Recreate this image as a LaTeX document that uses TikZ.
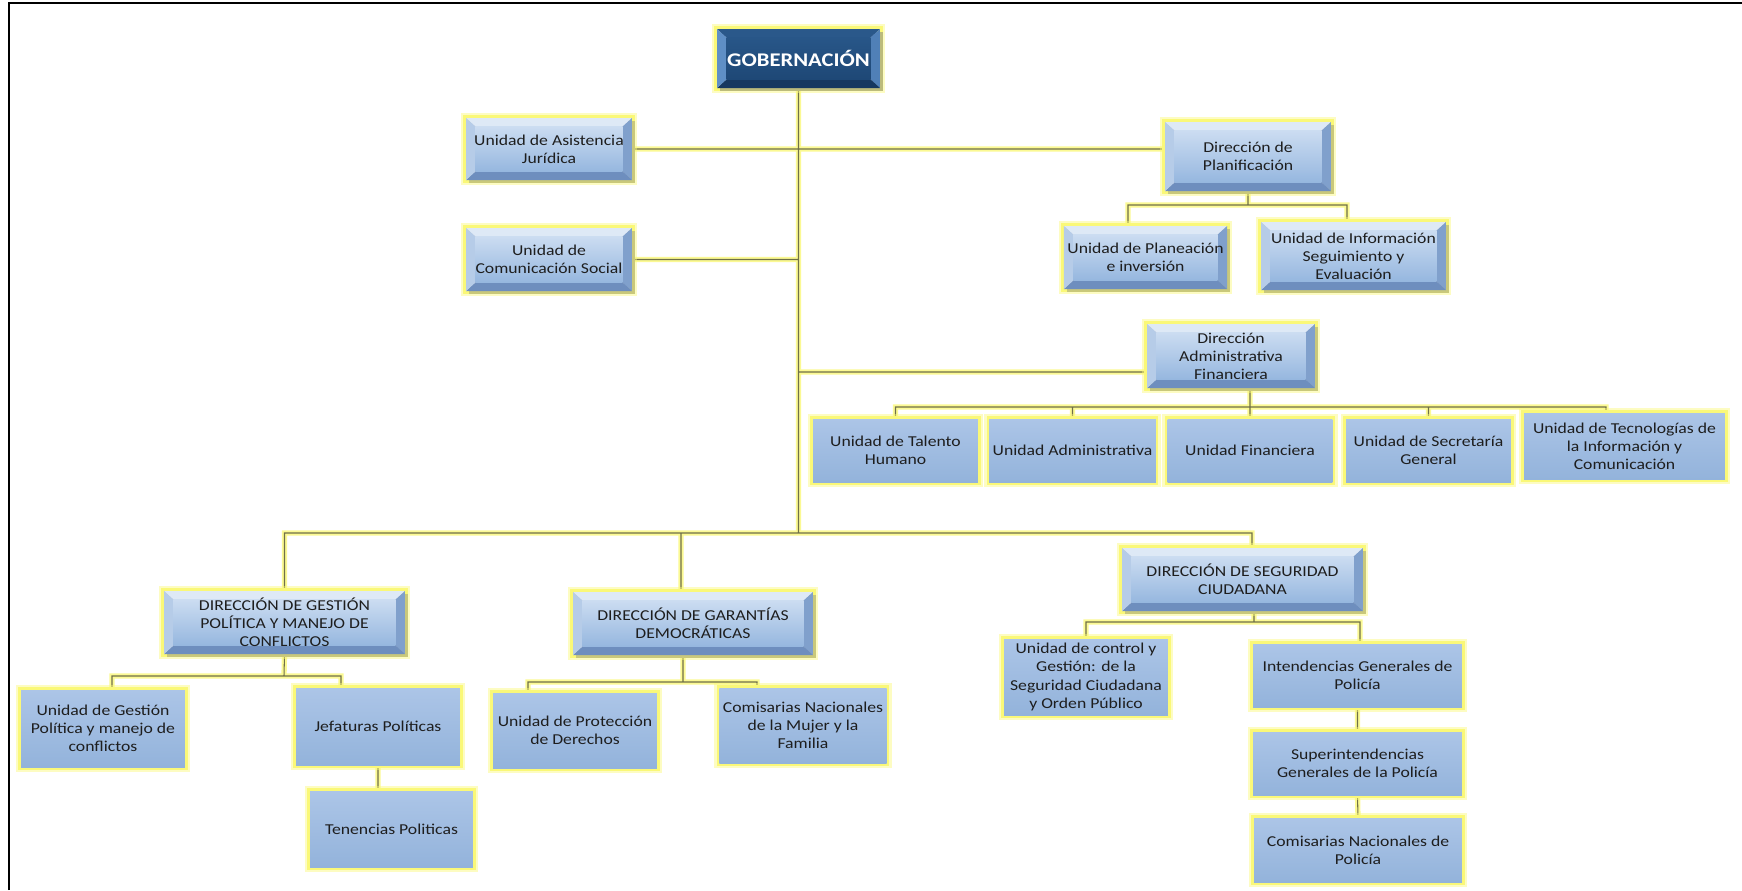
\documentclass[tikz,border=0pt]{standalone}
\usepackage{fontspec}
\setmainfont{Carlito}[FakeStretch=1.17]
\usepackage{tikz}
\usetikzlibrary{shadows,backgrounds}
\usepackage{xcolor}
\definecolor{glow}{RGB}{250,248,120}
\definecolor{linkc}{RGB}{112,112,72}
\definecolor{txt}{RGB}{30,30,30}
% light bevel faces
\definecolor{lbhi}{RGB}{203,220,241}
\definecolor{lblo}{RGB}{150,183,223}
\definecolor{lbtop}{RGB}{222,233,246}
\definecolor{lbleft}{RGB}{182,204,232}
\definecolor{lbright}{RGB}{128,160,204}
\definecolor{lbbot}{RGB}{110,142,190}
% dark bevel faces
\definecolor{dbhi}{RGB}{40,86,136}
\definecolor{dblo}{RGB}{30,72,118}
\definecolor{dbtop}{RGB}{42,88,138}
\definecolor{dbleft}{RGB}{95,143,197}
\definecolor{dbright}{RGB}{80,128,183}
\definecolor{dbbot}{RGB}{22,56,96}
% flat unit boxes
\definecolor{fbhi}{RGB}{172,197,231}
\definecolor{fblo}{RGB}{147,179,219}
\tikzset{
  bevel/.style={path picture={
    \path (path picture bounding box.north west) coordinate (bvA)
          (path picture bounding box.north east) coordinate (bvB)
          (path picture bounding box.south east) coordinate (bvC)
          (path picture bounding box.south west) coordinate (bvD);
    \path ([shift={(5.5pt,-5pt)}]bvA) coordinate (bva)
          ([shift={(-5.5pt,-5pt)}]bvB) coordinate (bvb)
          ([shift={(-5.5pt,5pt)}]bvC) coordinate (bvc)
          ([shift={(5.5pt,5pt)}]bvD) coordinate (bvd);
    \fill[#1top] (bvA) -- (bvB) -- (bvb) -- (bva) -- cycle;
    \fill[#1right] (bvB) -- (bvC) -- (bvc) -- (bvb) -- cycle;
    \fill[#1bot] (bvC) -- (bvD) -- (bvd) -- (bvc) -- cycle;
    \fill[#1left] (bvD) -- (bvA) -- (bva) -- (bvd) -- cycle;
    \shade[top color=#1hi, bottom color=#1lo] (bva) rectangle (bvc);
  }}
}
\tikzstyle{box} = [rectangle, align=center, text=txt, inner sep=2pt, font=\fontsize{8.6}{10.3}\selectfont,
  preaction={draw=glow, draw opacity=.45, line width=6pt}, preaction={draw=glow, line width=3pt}]
\tikzstyle{direccion} = [box, bevel=lb, drop shadow={shadow xshift=1.5pt, shadow yshift=-1.5pt, opacity=.4}]
\tikzstyle{unidad} = [box, top color=fbhi, bottom color=fblo]
\tikzstyle{gobierno} = [box, bevel=db, text=white, font=\fontsize{11}{13}\selectfont\bfseries, drop shadow={shadow xshift=1.5pt, shadow yshift=-1.5pt, opacity=.5}]
\tikzstyle{link} = [draw=linkc, line width=0.6pt, preaction={draw=glow, draw opacity=.8, line width=3pt}]

\begin{document}
\begin{tikzpicture}[x=0.02cm, y=-0.02cm]
\useasboundingbox (0,0) rectangle (1742,890);
\draw[line width=1.4pt] (9,890) -- (9,3) -- (1742,3);

% Top
\node[gobierno, minimum width=3.26cm, minimum height=1.18cm] (gob) at (798.5,58.5) {GOBERNACIÓN};

% Staff units
\node[direccion, minimum width=3.32cm, minimum height=1.24cm] (jur) at (549,149) {Unidad de Asistencia\\Jurídica};
\node[direccion, minimum width=3.32cm, minimum height=1.26cm] (com) at (549,259.5) {Unidad de\\Comunicación Social};

% Planificacion
\node[direccion, minimum width=3.32cm, minimum height=1.38cm] (pla) at (1248,156.5) {Dirección de\\Planificación};
\node[direccion, minimum width=3.26cm, minimum height=1.26cm] (pin) at (1145.5,257.5) {Unidad de Planeación\\e inversión};
\node[direccion, minimum width=3.7cm, minimum height=1.36cm] (ise) at (1353.5,256) {Unidad de Información\\Seguimiento y\\Evaluación};

% Administrativa Financiera
\node[direccion, minimum width=3.36cm, minimum height=1.28cm] (daf) at (1231,356) {Dirección\\Administrativa\\Financiera};
\node[unidad, minimum width=3.3cm, minimum height=1.26cm] (uth) at (895.5,450.5) {Unidad de Talento\\Humano};
\node[unidad, minimum width=3.3cm, minimum height=1.26cm] (uad) at (1072.5,450.5) {Unidad Administrativa};
\node[unidad, minimum width=3.3cm, minimum height=1.26cm] (ufi) at (1250,450.5) {Unidad Financiera};
\node[unidad, minimum width=3.3cm, minimum height=1.26cm] (usg) at (1428.5,450.5) {Unidad de Secretaría\\General};
\node[unidad, minimum width=4.02cm, minimum height=1.32cm] (utc) at (1624.5,446) {Unidad de Tecnologías de\\la Información y\\Comunicación};

% Direcciones de linea
\node[direccion, minimum width=4.82cm, minimum height=1.26cm] (dgp) at (284.5,622.5) {DIRECCIÓN DE GESTIÓN\\POLÍTICA Y MANEJO DE\\CONFLICTOS};
\node[direccion, minimum width=4.8cm, minimum height=1.26cm] (dga) at (693,623.5) {DIRECCIÓN DE GARANTÍAS\\DEMOCRÁTICAS};
\node[direccion, minimum width=4.82cm, minimum height=1.26cm] (dsc) at (1242.5,579.5) {DIRECCIÓN DE SEGURIDAD\\CIUDADANA};

% Gestion politica
\node[unidad, minimum width=3.28cm, minimum height=1.54cm] (ugp) at (103,728.5) {Unidad de Gestión\\Política y manejo de\\conflictos};
\node[unidad, minimum width=3.28cm, minimum height=1.54cm] (jef) at (378,726.5) {Jefaturas Políticas};
\node[unidad, minimum width=3.26cm, minimum height=1.52cm] (ten) at (391.5,829) {Tenencias Politicas};

% Garantias
\node[unidad, minimum width=3.28cm, minimum height=1.5cm] (upd) at (575,730.5) {Unidad de Protección\\de Derechos};
\node[unidad, minimum width=3.28cm, minimum height=1.5cm] (cnm) at (803,725.5) {Comisarias Nacionales\\de la Mujer y la\\Familia};

% Seguridad
\node[unidad, minimum width=3.28cm, minimum height=1.52cm] (ucg) at (1086,677) {Unidad de control y\\Gestión: de la\\Seguridad Ciudadana\\y Orden Público};
\node[unidad, minimum width=4.18cm, minimum height=1.26cm] (igp) at (1357.5,675.5) {Intendencias Generales de\\Policía};
\node[unidad, minimum width=4.18cm, minimum height=1.26cm] (sgp) at (1357.5,763.5) {Superintendencias\\Generales de la Policía};
\node[unidad, minimum width=4.16cm, minimum height=1.28cm] (cnp) at (1358,850) {Comisarias Nacionales de\\Policía};

% Bus points
\coordinate (mainbus) at (799,533);
\coordinate (plabus) at (1248,205);
\coordinate (dafbus) at (1250,407);
\coordinate (dgpbus) at (284,676);
\coordinate (dgabus) at (683,682);
\coordinate (dscbus) at (1254,622);
\coordinate (dafl) at ([yshift=-0.32cm]daf.west);

% Connectors
\begin{scope}[on background layer]
\draw[link]
  (gob.south) -- (gob.south |- mainbus)
  (jur.east) -- (jur.east -| pla.west)
  (com.east) -- (com.east -| mainbus)
  (dafl) -- (dafl -| mainbus)
  (pla.south) -- (plabus)
  ([xshift=-0.35cm]pin.north) |- (plabus) -| ([xshift=-0.13cm]ise.north)
  ([xshift=0.38cm]daf.south) -- (dafbus)
  (uth.north) |- (dafbus) -| ([xshift=-0.37cm]utc.north)
  (uad.north) -- (uad.north |- dafbus)
  (ufi.north) -- (dafbus)
  (usg.north) -- (usg.north |- dafbus)
  (dgp.north) |- (mainbus) -| ([xshift=0.19cm]dsc.north)
  ([xshift=-0.24cm]dga.north) -- ([xshift=-0.24cm]dga.north |- mainbus)
  (dgp.south) -- (dgpbus)
  ([xshift=0.18cm]ugp.north) |- (dgpbus) -| ([xshift=-0.74cm]jef.north)
  (jef.south) -- (jef.south |- ten.north)
  ([xshift=-0.2cm]dga.south) -- (dgabus)
  ([xshift=-0.94cm]upd.north) |- (dgabus) -| ([xshift=-0.92cm]cnm.north)
  ([xshift=0.23cm]dsc.south) -- (dscbus)
  (ucg.north) |- (dscbus) -| ([xshift=0.05cm]igp.north)
  (igp.south) -- (sgp.north)
  (sgp.south) -- (cnp.north);
\end{scope}
\end{tikzpicture}
\end{document}
